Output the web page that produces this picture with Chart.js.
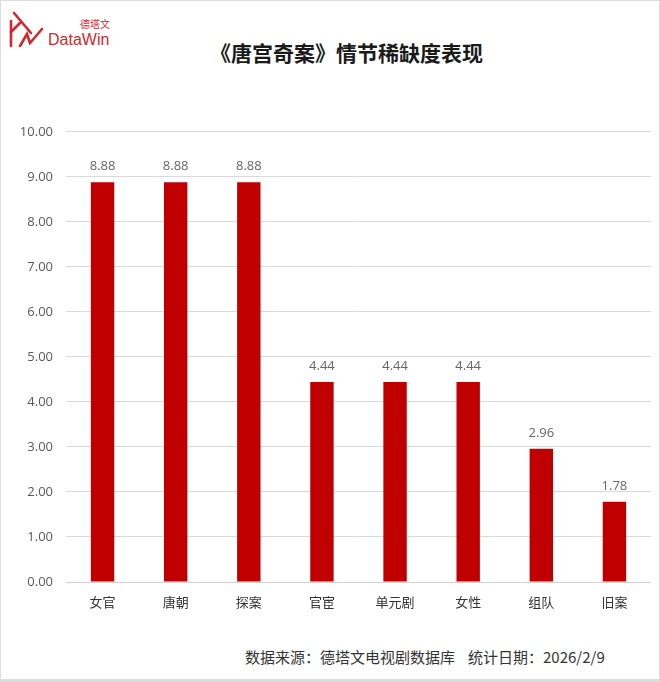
<!DOCTYPE html>
<html>
<head>
<meta charset="utf-8">
<script src="https://cdn.jsdelivr.net/npm/chart.js@4/dist/chart.umd.min.js"></script>
<style>
  body { margin: 0; background: #fff; font-family: "Noto Sans CJK SC", "Noto Sans", sans-serif; }
  #page { position: relative; width: 660px; height: 682px; box-sizing: border-box; border: 1px solid #dcdcdc; border-bottom-width: 3px; overflow: hidden; }
  #title { position: absolute; left: 209px; top: 36px; font-size: 21px; font-weight: bold; color: #1a1a1a; white-space: nowrap; line-height: 30px; }
  #logoCn { position: absolute; left: 79px; top: 16px; font-size: 10px; line-height: 14px; color: #d0282e; }
  #logoEn { position: absolute; left: 47px; top: 29px; font-size: 16px; line-height: 20px; color: #d0282e; font-family: "Liberation Sans", sans-serif; }
  #logoIcon { position: absolute; left: 0; top: 0; }
  #footer { position: absolute; left: 244px; top: 645px; font-size: 15px; line-height: 22px; color: #333; white-space: nowrap; }
  #footer span + span { margin-left: 13px; }
  #wrap { position: absolute; left: 0; top: 110px; width: 650px; height: 511px; }
</style>
</head>
<body>
<div id="page">
  <svg id="logoIcon" width="46" height="50" viewBox="0 0 46 50">
    <g stroke="#d0282e" stroke-width="2.6" fill="none" stroke-linecap="round">
      <polyline points="10,20 10,45"/>
      <polyline points="13,12 30,32"/>
      <polyline points="10,31 19,22"/>
      <polyline points="19,45 26,33 29,42 41,28"/>
    </g>
  </svg>
  <div id="logoCn">德塔文</div>
  <div id="logoEn">DataWin</div>
  <div id="title">《唐宫奇案》情节稀缺度表现</div>
  <div id="wrap"><canvas id="chart"></canvas></div>
  <div id="footer"><span>数据来源：德塔文电视剧数据库</span><span>统计日期：2026/2/9</span></div>
</div>
<script>
const categories = ["女官", "唐朝", "探案", "官宦", "单元剧", "女性", "组队", "旧案"];
const scores = [8.88, 8.88, 8.88, 4.44, 4.44, 4.44, 2.96, 1.78];
const yTicks = [0, 1, 2, 3, 4, 5, 6, 7, 8, 9, 10];

const valueLabels = {
  id: "valueLabels",
  afterDatasetsDraw(chart) {
    const ctx = chart.ctx;
    const meta = chart.getDatasetMeta(0);
    ctx.save();
    ctx.font = "13px 'Open Sans', sans-serif";
    ctx.fillStyle = "#666";
    ctx.textAlign = "center";
    ctx.textBaseline = "alphabetic";
    meta.data.forEach((bar, i) => {
      ctx.fillText(scores[i].toFixed(2), bar.x, bar.y - 12);
    });
    ctx.restore();
  }
};

new Chart(document.getElementById("chart"), {
  type: "bar",
  data: {
    labels: categories,
    datasets: [{
      data: scores,
      backgroundColor: "#c00000",
      barPercentage: 0.32,
      categoryPercentage: 1
    }]
  },
  options: {
    responsive: true,
    maintainAspectRatio: false,
    animation: false,
    layout: { padding: { top: 15, right: 0, left: 0, bottom: 0 } },
    plugins: { legend: { display: false }, tooltip: { enabled: false } },
    scales: {
      x: {
        grid: { display: false, drawTicks: false },
        border: { color: "#d0d0d0" },
        ticks: { color: "#333", font: { size: 13, family: "'Noto Sans CJK SC'" }, padding: 12 },
        afterFit: (s) => { s.height = 40; }
      },
      y: {
        min: 0,
        max: 10,
        afterBuildTicks: (s) => { s.ticks = yTicks.map(v => ({ value: v })); },
        grid: { color: "#d9d9d9", drawTicks: false },
        border: { display: false },
        ticks: { color: "#595959", font: { size: 13, family: "'Open Sans'" }, padding: 13, callback: v => v.toFixed(2) },
        afterFit: (s) => { s.width = 65; }
      }
    }
  },
  plugins: [valueLabels]
});
</script>
</body>
</html>
